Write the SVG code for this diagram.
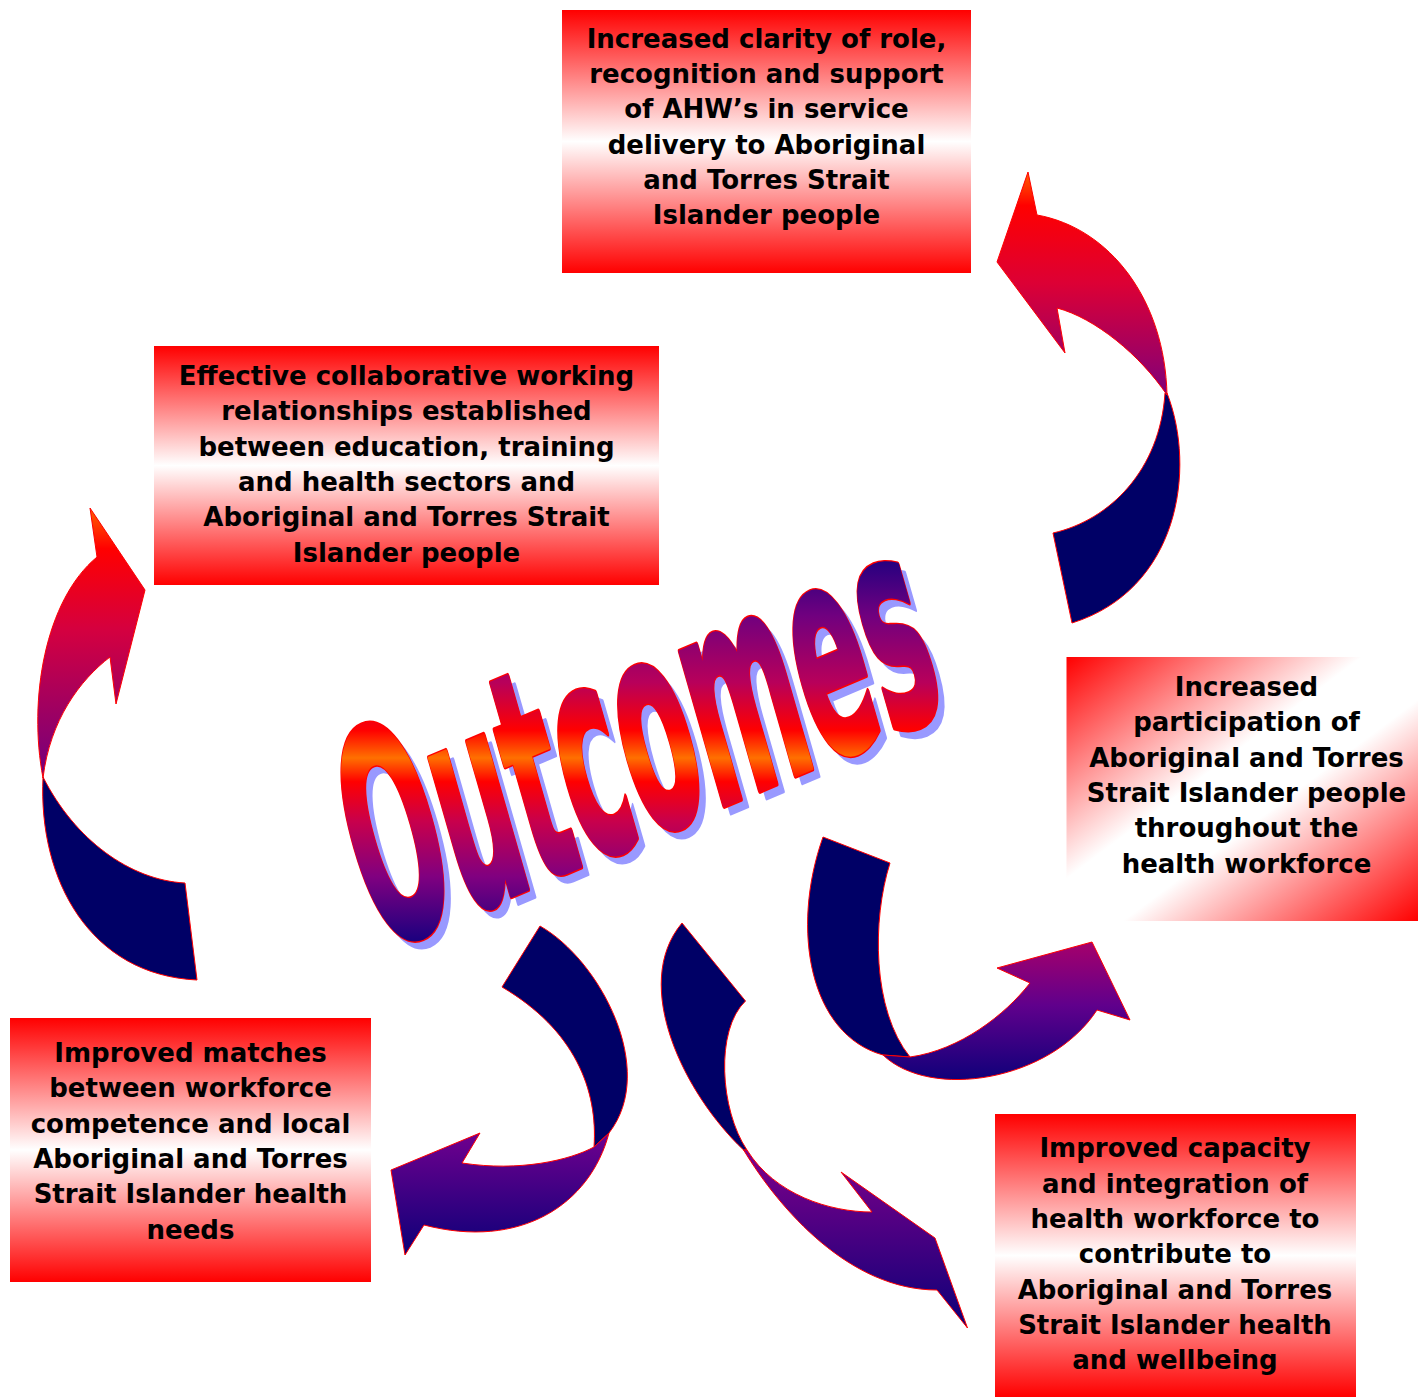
<svg xmlns="http://www.w3.org/2000/svg" width="1418" height="1397" viewBox="0 0 1418 1397">
<style>
.t{font-family:"DejaVu Sans",Verdana,sans-serif;font-weight:bold;font-size:26px;text-anchor:middle;fill:#000}
.oc{font-family:"DejaVu Sans",Verdana,sans-serif;font-weight:bold;font-size:100px}
.navy{fill:#000066;stroke:#ff0000;stroke-width:1}
.edge{stroke:#ff0000;stroke-width:1}
</style>
<defs>
<linearGradient id="gV" x1="0" y1="0" x2="0" y2="1">
<stop offset="0" stop-color="#ff0000"/><stop offset="0.5" stop-color="#ffffff"/><stop offset="1" stop-color="#ff0000"/>
</linearGradient>
<linearGradient id="gD" x1="0" y1="0" x2="1" y2="1">
<stop offset="0" stop-color="#ff0000"/><stop offset="0.42" stop-color="#ffffff"/><stop offset="0.58" stop-color="#ffffff"/><stop offset="1" stop-color="#ff0000"/>
</linearGradient>
<linearGradient id="gOut" gradientUnits="userSpaceOnUse" x1="0" y1="552" x2="0" y2="948">
<stop offset="0" stop-color="#1a0080"/>
<stop offset="0.16" stop-color="#70007f"/>
<stop offset="0.33" stop-color="#b8005a"/>
<stop offset="0.45" stop-color="#ff0000"/>
<stop offset="0.52" stop-color="#ff7000"/>
<stop offset="0.58" stop-color="#ff0000"/>
<stop offset="0.68" stop-color="#c8004c"/>
<stop offset="0.82" stop-color="#800080"/>
<stop offset="1" stop-color="#10007f"/>
</linearGradient>
<linearGradient id="gA" gradientUnits="userSpaceOnUse" x1="0" y1="172" x2="0" y2="395">
<stop offset="0" stop-color="#ff6000"/><stop offset="0.15" stop-color="#ff0000"/><stop offset="0.5" stop-color="#dc0035"/><stop offset="1" stop-color="#80007a"/>
</linearGradient>
<linearGradient id="gB" gradientUnits="userSpaceOnUse" x1="0" y1="508" x2="0" y2="780">
<stop offset="0" stop-color="#ff6000"/><stop offset="0.15" stop-color="#ff0000"/><stop offset="0.45" stop-color="#d40040"/><stop offset="1" stop-color="#70007f"/>
</linearGradient>
<linearGradient id="gC" gradientUnits="userSpaceOnUse" x1="0" y1="940" x2="0" y2="1085">
<stop offset="0" stop-color="#a8006a"/><stop offset="0.45" stop-color="#60008c"/><stop offset="1" stop-color="#0a0078"/>
</linearGradient>
<linearGradient id="gDn" gradientUnits="userSpaceOnUse" x1="0" y1="1133" x2="0" y2="1256">
<stop offset="0" stop-color="#70008e"/><stop offset="1" stop-color="#0a0078"/>
</linearGradient>
<linearGradient id="gE" gradientUnits="userSpaceOnUse" x1="0" y1="1150" x2="0" y2="1330">
<stop offset="0" stop-color="#80008a"/><stop offset="1" stop-color="#0a0078"/>
</linearGradient>
<mask id="outMask" maskUnits="userSpaceOnUse" x="0" y="0" width="1418" height="1397">
<text class="oc" fill="#ffffff" stroke="#ffffff" stroke-width="3.2" stroke-linejoin="round" vector-effect="non-scaling-stroke" transform="matrix(1.013 -0.430 0.804 2.800 378.7 951.9)">Outcomes</text>
</mask>
</defs>
<rect width="1418" height="1397" fill="#ffffff"/>

<g id="node-role">
<rect x="562" y="10" width="409" height="263" fill="url(#gV)"/>
<text class="t"><tspan x="766.5" y="47.5">Increased clarity of role,</tspan><tspan x="766.5" y="82.8">recognition and support</tspan><tspan x="766.5" y="118.2">of AHW’s in service</tspan><tspan x="766.5" y="153.5">delivery to Aboriginal</tspan><tspan x="766.5" y="188.9">and Torres Strait</tspan><tspan x="766.5" y="224.2">Islander people</tspan></text>
</g>

<g id="node-collab">
<rect x="154" y="346" width="505" height="239" fill="url(#gV)"/>
<text class="t"><tspan x="406.5" y="384.8">Effective collaborative working</tspan><tspan x="406.5" y="420.1">relationships established</tspan><tspan x="406.5" y="455.5">between education, training</tspan><tspan x="406.5" y="490.8">and health sectors and</tspan><tspan x="406.5" y="526.2">Aboriginal and Torres Strait</tspan><tspan x="406.5" y="561.5">Islander people</tspan></text>
</g>

<g id="node-participation">
<rect x="1066.5" y="657" width="352" height="264" fill="url(#gD)"/>
<text class="t"><tspan x="1246.5" y="695.7">Increased</tspan><tspan x="1246.5" y="731.1">participation of</tspan><tspan x="1246.5" y="766.5">Aboriginal and Torres</tspan><tspan x="1246.5" y="801.9">Strait Islander people</tspan><tspan x="1246.5" y="837.3">throughout the</tspan><tspan x="1246.5" y="872.7">health workforce</tspan></text>
</g>

<g id="node-matches">
<rect x="10" y="1018" width="361" height="264" fill="url(#gV)"/>
<text class="t"><tspan x="190.5" y="1062">Improved matches</tspan><tspan x="190.5" y="1097.4">between workforce</tspan><tspan x="190.5" y="1132.7">competence and local</tspan><tspan x="190.5" y="1168.1">Aboriginal and Torres</tspan><tspan x="190.5" y="1203.4">Strait Islander health</tspan><tspan x="190.5" y="1238.8">needs</tspan></text>
</g>

<g id="node-capacity">
<rect x="995" y="1114" width="361" height="283" fill="url(#gV)"/>
<text class="t"><tspan x="1175" y="1157.3">Improved capacity</tspan><tspan x="1175" y="1192.6">and integration of</tspan><tspan x="1175" y="1228">health workforce to</tspan><tspan x="1175" y="1263.3">contribute to</tspan><tspan x="1175" y="1298.7">Aboriginal and Torres</tspan><tspan x="1175" y="1334">Strait Islander health</tspan><tspan x="1175" y="1369.4">and wellbeing</tspan></text>
</g>

<g id="connectors">
<g id="arrow-a">
<path class="navy" d="M1167,393 C1197,470 1178,590 1072,623 L1053,533 C1110,520 1160,470 1165,393 Z"/>
<path class="edge" fill="url(#gA)" d="M1028,172 L997,262 L1065,353 L1057,308 C1095,318 1140,355 1167,395 C1165,300 1110,228 1037,215 Z"/>
</g>
<g id="arrow-b">
<path class="navy" d="M43,777 C38,880 90,975 197,980 L185,883 C130,880 75,840 43,777 Z"/>
<path class="edge" fill="url(#gB)" d="M90,508 L145,590 L116,704 L110,657 C80,680 50,720 43,778 C28,700 45,600 97,557 Z"/>
</g>
<g id="arrow-c">
<path class="navy" d="M823,837 L890,863 C872,920 872,1010 910,1057 L883,1055 C810,1035 790,930 823,837 Z"/>
<path class="edge" fill="url(#gC)" d="M883,1055 C930,1100 1050,1082 1097,1010 L1130,1020 L1092,942 L997,968 L1030,983 C1005,1015 960,1050 910,1057 Z"/>
</g>
<g id="arrow-d">
<path class="navy" d="M540,926 C600,960 658,1070 609,1133 L594,1147 C598,1090 575,1030 502,987 Z"/>
<path class="edge" fill="url(#gDn)" d="M609,1133 C590,1205 520,1250 424,1225 L405,1255 L391,1170 L480,1133 L462,1163 C520,1172 570,1160 594,1147 Z"/>
</g>
<g id="arrow-e">
<path class="navy" d="M682,923 L745.5,1001 C715,1030 720,1110 747,1150 L743.6,1150 C685,1095 630,985 682,923 Z"/>
<path class="edge" fill="url(#gE)" d="M743.6,1150 C780,1210 850,1290 937,1290 L967.5,1328 L935,1238 L841,1172 L872,1212 C830,1212 775,1195 747,1150 Z"/>
</g>
</g>

<g id="outcomes">
<text class="oc" fill="#9999ff" stroke="#9999ff" stroke-width="3.2" stroke-linejoin="round" vector-effect="non-scaling-stroke" transform="translate(7 8) matrix(1.013 -0.430 0.804 2.800 378.7 951.9)">Outcomes</text>
<text class="oc" fill="#ff0000" stroke="#ff0000" stroke-width="5.4" stroke-linejoin="round" vector-effect="non-scaling-stroke" transform="matrix(1.013 -0.430 0.804 2.800 378.7 951.9)">Outcomes</text>
<rect x="300" y="520" width="700" height="460" fill="url(#gOut)" mask="url(#outMask)"/>
</g>
</svg>
